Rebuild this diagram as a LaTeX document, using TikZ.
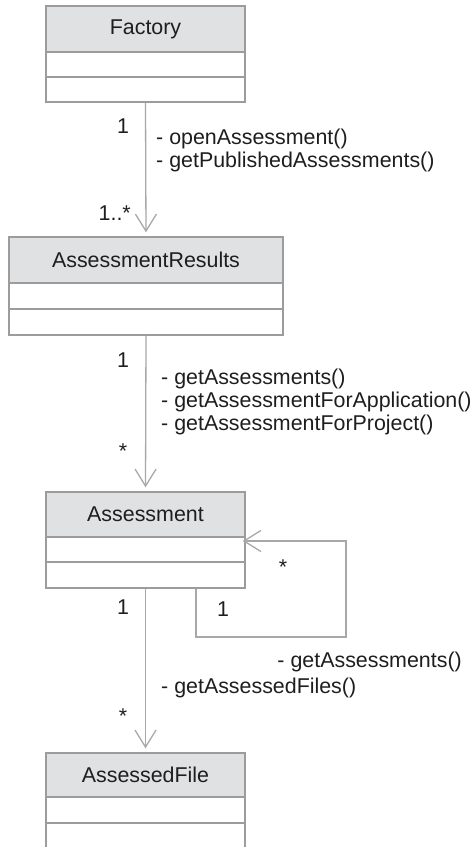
\documentclass[tikz,border=0pt]{standalone}
\usepackage{fontspec}
\setmainfont{Liberation Sans}
\usetikzlibrary{arrows.meta}
\definecolor{linegray}{HTML}{A8A8A8}
\definecolor{boxgray}{HTML}{9C9C9C}
\definecolor{hdrfill}{HTML}{E0E1E3}
\definecolor{txt}{HTML}{1E1E1E}
\tikzset{
  clsbox/.style={draw=boxgray, line width=1.4pt, fill=white, rectangle, inner sep=0pt},
  hdrbox/.style={draw=boxgray, line width=1.4pt, fill=hdrfill, rectangle, inner sep=0pt, font=\fontsize{21.4}{25}\selectfont, text=txt},
  assoc/.style={draw=linegray, line width=1.3pt, -{Straight Barb[length=17pt,width=21pt,line width=1.3pt]}, shorten >=4pt},
  lbl/.style={font=\fontsize{21.4}{25}\selectfont, text=txt, inner sep=0pt},
}
\begin{document}
\begin{tikzpicture}[x=1pt,y=-1pt]
\useasboundingbox (0,0) rectangle (475,847);
\clip (0,0) rectangle (475,847);
% Factory
\node[clsbox, minimum width=199pt, minimum height=96pt] (factory) at (145.5,54) {};
\node[hdrbox, minimum width=199pt, minimum height=46pt, anchor=north] (factoryh) at (factory.north) {Factory};
\draw[boxgray, line width=1.4pt] (46,77) -- (245,77);
% AssessmentResults
\node[clsbox, minimum width=274pt, minimum height=98pt] (results) at (146,286) {};
\node[hdrbox, minimum width=274pt, minimum height=46pt, anchor=north] (resultsh) at (results.north) {AssessmentResults};
\draw[boxgray, line width=1.4pt] (9,309) -- (283,309);
% Assessment
\node[clsbox, minimum width=199pt, minimum height=96pt] (assess) at (145.5,540) {};
\node[hdrbox, minimum width=199pt, minimum height=45pt, anchor=north] (assessh) at (assess.north) {Assessment};
\draw[boxgray, line width=1.4pt] (46,562) -- (245,562);
% AssessedFile
\node[clsbox, minimum width=199pt, minimum height=98pt] (afile) at (145.5,802) {};
\node[hdrbox, minimum width=199pt, minimum height=44pt, anchor=north] (afileh) at (afile.north) {AssessedFile};
\draw[boxgray, line width=1.4pt] (46,823) -- (245,823);
% associations
\draw[assoc] (factory.south) -- (results.north);
\draw[assoc] (results.south) -- (assess.north);
\draw[assoc] (assess.south) -- (afile.north);
\coordinate (la) at (196,637);
\coordinate (lb) at (346,637);
\coordinate (lc) at (346,541);
\draw[assoc, shorten >=-3pt] (assess.south -| la) -- (la) -- (lb) -- (lc) -- (assess.east |- lc);
% labels
\node[lbl, anchor=base] (m1) at (123,133) {1};
\node[lbl, anchor=base west] (f1) at (156,144) {- openAssessment()};
\node[lbl, anchor=base west] (f2) at (156,167) {- getPublishedAssessments()};
\node[lbl, anchor=base east] (m2) at (131,220) {1..*};
\node[lbl, anchor=base] (m3) at (123,367) {1};
\node[lbl, anchor=base west] (r1) at (161,384) {- getAssessments()};
\node[lbl, anchor=base west] (r2) at (161,407) {- getAssessmentForApplication()};
\node[lbl, anchor=base west] (r3) at (161,430) {- getAssessmentForProject()};
\node[lbl, anchor=base] (m4) at (123,458) {*};
\node[lbl, anchor=base] (m5) at (123,614) {1};
\node[lbl, anchor=base west] (a1) at (161,693) {- getAssessedFiles()};
\node[lbl, anchor=base] (m6) at (123,723) {*};
\node[lbl, anchor=base] (m7) at (283,574) {*};
\node[lbl, anchor=base] (m8) at (223,616) {1};
\node[lbl, anchor=base east] (s1) at (462,667) {- getAssessments()};
\end{tikzpicture}
\end{document}
